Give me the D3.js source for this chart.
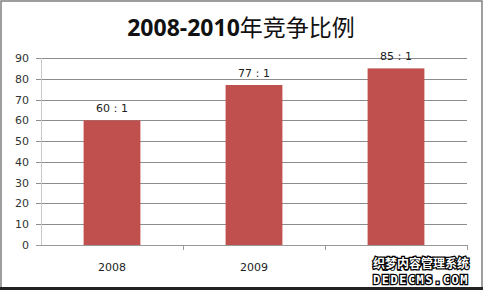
<!DOCTYPE html>
<html>
<head>
<meta charset="utf-8">
<script src="https://cdn.jsdelivr.net/npm/d3@7"></script>
<style>
  body { margin: 0; background: #fff; }
  svg { display: block; }
</style>
</head>
<body>
<div id="chart-area"></div>
<script>
/*
*    main.js
*/

var years = ["2008", "2009", "2010"];
var ratios = [60, 77, 85];
var ratioLabels = ["60：1", "77：1", "85：1"];
var yTicks = [0, 10, 20, 30, 40, 50, 60, 70, 80, 90];

var width = 483, height = 290;
var plotLeft = 41, plotRight = 467, plotTop = 58, plotBottom = 245;

var svg = d3.select("#chart-area").append("svg")
     .attr("width", width)
     .attr("height", height);

// frame
svg.append("rect")
     .attr("x", 1).attr("y", 1)
     .attr("width", width - 2).attr("height", height - 3)
     .attr("fill", "#fff")
     .attr("stroke", "#7f7f7f")
     .attr("stroke-width", 1.5);
svg.append("line")
     .attr("x1", 0).attr("x2", width)
     .attr("y1", 288.5).attr("y2", 288.5)
     .attr("stroke", "#222").attr("stroke-width", 3);

var x = d3.scaleBand()
     .domain(years)
     .range([plotLeft, plotRight])
     .paddingInner(0.6)
     .paddingOuter(0.3);

var xBand = d3.scaleBand()
     .domain(years)
     .range([plotLeft, plotRight]);

var y = d3.scaleLinear()
     .domain([0, 90])
     .range([plotBottom, plotTop]);

// grid lines
svg.selectAll("line.grid")
     .data(yTicks)
     .enter()
     .append("line")
     .attr("class", "grid")
     .attr("x1", plotLeft - 5)
     .attr("x2", plotRight)
     .attr("y1", (d) => { return Math.round(y(d)) + 0.5; })
     .attr("y2", (d) => { return Math.round(y(d)) + 0.5; })
     .attr("stroke", (d) => { return d === 0 ? "#999" : "#8c8c8c"; })
     .attr("stroke-width", 1);

// y axis line
svg.append("line")
     .attr("x1", plotLeft + 0.5).attr("x2", plotLeft + 0.5)
     .attr("y1", plotTop).attr("y2", plotBottom)
     .attr("stroke", "#c8c8c8");

// y tick labels
svg.selectAll("text.ytick")
     .data(yTicks)
     .enter()
     .append("text")
     .attr("class", "ytick")
     .attr("x", plotLeft - 12)
     .attr("y", (d) => { return y(d) + 4; })
     .attr("text-anchor", "end")
     .attr("font-family", "DejaVu Sans, sans-serif")
     .attr("font-size", 11)
     .attr("fill", "#333")
     .text((d) => { return d; });

// category ticks
svg.selectAll("line.xtick")
     .data(years)
     .enter()
     .append("line")
     .attr("class", "xtick")
     .attr("x1", (d) => { return Math.round(xBand(d) + xBand.bandwidth()) + 0.5; })
     .attr("x2", (d) => { return Math.round(xBand(d) + xBand.bandwidth()) + 0.5; })
     .attr("y1", plotBottom)
     .attr("y2", plotBottom + 5)
     .attr("stroke", "#999");

// bars
svg.selectAll("rect.bar")
     .data(ratios)
     .enter()
     .append("rect")
     .attr("class", "bar")
     .attr("x", (d, i) => { return x(years[i]); })
     .attr("y", (d) => { return y(d); })
     .attr("width", x.bandwidth())
     .attr("height", (d) => { return y(0) - y(d); })
     .attr("fill", "#c0504d");

// bar labels
svg.selectAll("text.val")
     .data(ratios)
     .enter()
     .append("text")
     .attr("class", "val")
     .attr("x", (d, i) => { return x(years[i]) + x.bandwidth() / 2; })
     .attr("y", (d) => { return y(d) - 8; })
     .attr("text-anchor", "middle")
     .attr("font-family", "DejaVu Sans, sans-serif")
     .attr("font-size", 11)
     .attr("fill", "#222")
     .text((d, i) => { return ratioLabels[i]; });

// x labels
svg.selectAll("text.xlab")
     .data(years)
     .enter()
     .append("text")
     .attr("class", "xlab")
     .attr("x", (d) => { return x(d) + x.bandwidth() / 2; })
     .attr("y", 271)
     .attr("text-anchor", "middle")
     .attr("font-family", "DejaVu Sans, sans-serif")
     .attr("font-size", 11)
     .attr("fill", "#222")
     .text((d) => { return d; });

// title
var title = svg.append("text")
     .attr("x", 241)
     .attr("y", 36)
     .attr("text-anchor", "middle")
     .attr("font-size", 23)
     .attr("fill", "#111");
title.append("tspan")
     .attr("font-family", "Open Sans, Liberation Sans, sans-serif")
     .attr("font-weight", "bold")
     .text("2008-2010");
title.append("tspan")
     .attr("font-family", "Noto Sans CJK SC, sans-serif")
     .text("年竞争比例");

// watermark
var wm = svg.append("g").attr("font-weight", "bold");
wm.append("text")
     .attr("x", 421).attr("y", 268)
     .attr("text-anchor", "middle")
     .attr("font-family", "Noto Sans CJK SC, sans-serif")
     .attr("font-size", 12)
     .attr("fill", "#fff").attr("stroke", "#000").attr("stroke-width", 2.5)
     .attr("paint-order", "stroke")
     .text("织梦内容管理系统");
wm.append("text")
     .attr("x", 421).attr("y", 284)
     .attr("text-anchor", "middle")
     .attr("font-family", "DejaVu Sans Mono, monospace")
     .attr("font-size", 12)
     .attr("letter-spacing", 1.5)
     .attr("fill", "#fff").attr("stroke", "#000").attr("stroke-width", 2.5)
     .attr("paint-order", "stroke")
     .text("DEDECMS.COM");
</script>
</body>
</html>
